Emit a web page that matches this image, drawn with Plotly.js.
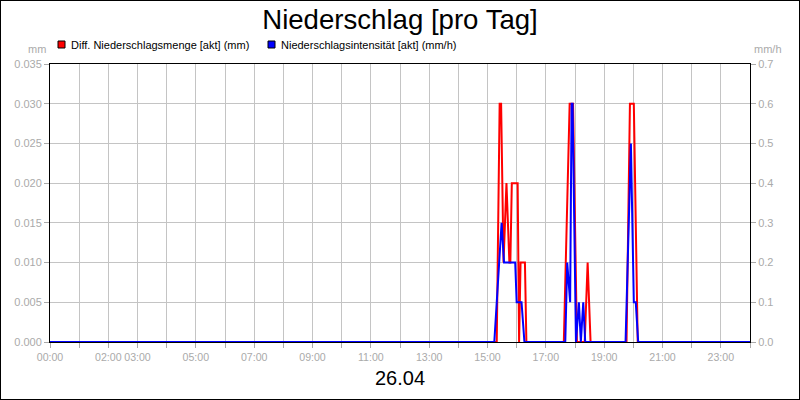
<!DOCTYPE html>
<html>
<head>
<meta charset="utf-8">
<script src="https://cdn.plot.ly/plotly-3.0.1.min.js"></script>
<style>
  body { margin: 0; background: #fff; }
  #chart { width: 798px; height: 398px; border: 1px solid #000; }
</style>
</head>
<body>
<div id="chart"></div>
<script>
// Diff. Niederschlagsmenge [akt] (mm) - linke Achse
const mengeZeit = ['00:00', '15:19', '15:25', '15:28', '15:33', '15:39', '15:45', '15:47', '15:50', '16:02', '16:05',
    '16:08', '16:17', '16:20', '17:37', '17:49', '17:56', '18:04', '18:20', '18:26', '18:32',
    '19:46', '19:53', '20:01', '20:09', '24:00'];
const mengeWert = [0, 0, 0.03, 0.03, 0.01, 0.02, 0.01, 0.01, 0.02, 0.02, 0,
    0.01, 0.01, 0, 0, 0.03, 0.03, 0, 0, 0.01, 0,
    0, 0.03, 0.03, 0, 0];

// Niederschlagsintensität [akt] (mm/h) - rechte Achse
const intensZeit = ['00:00', '15:14', '15:29', '15:34', '15:57', '16:00', '16:10', '16:16',
    '17:40', '17:44', '17:50', '17:53', '17:55', '18:02', '18:08', '18:12', '18:17', '18:21',
    '19:44', '19:55', '20:01', '20:05', '20:10', '24:00'];
const intensWert = [0, 0, 0.3, 0.2, 0.2, 0.1, 0.1, 0,
    0, 0.2, 0.1, 0.6, 0.6, 0, 0.1, 0, 0.1, 0,
    0, 0.5, 0.1, 0.1, 0, 0];

const stunden = [0, 1, 2, 3, 4, 5, 6, 7, 8, 9, 10, 11, 12, 13, 14, 15, 16, 17, 18, 19, 20, 21, 22, 23, 24];
const stundenText = ['00:00', '', '02:00', '03:00', '', '05:00', '', '07:00', '', '09:00', '', '11:00', '',
    '13:00', '', '15:00', '', '17:00', '', '19:00', '', '21:00', '', '23:00', ''];

function toHours(t) {
    const p = t.split(':');
    return Number(p[0]) + Number(p[1]) / 60;
}

// page pixel -> paper coords (plot area 50..750, 64..342)
function px(x) { return (x - 50) / 700; }
function py(y) { return (342 - y) / 278; }

const grey = '#aaaaaa';
const font = 'Liberation Sans, Arial, sans-serif';

const traceIntens = {
    x: intensZeit.map(toHours),
    y: intensWert,
    yaxis: 'y2',
    type: 'scatter',
    mode: 'lines',
    name: 'Niederschlagsintensität [akt] (mm/h)',
    line: { color: '#0000ff', width: 2 }
};

const traceMenge = {
    x: mengeZeit.map(toHours),
    y: mengeWert,
    type: 'scatter',
    mode: 'lines',
    name: 'Diff. Niederschlagsmenge [akt] (mm)',
    line: { color: '#ff0000', width: 2 }
};

const layout = {
    width: 798,
    height: 398,
    margin: { l: 49, r: 49, t: 63, b: 57 },
    showlegend: false,
    paper_bgcolor: '#fff',
    plot_bgcolor: '#fff',
    font: { family: font, size: 11, color: '#000' },
    title: {
        text: 'Niederschlag [pro Tag]',
        font: { family: font, size: 27.6, color: '#000' },
        x: 0.5, xanchor: 'center',
        yref: 'container', y: 1 - 18 / 398, yanchor: 'middle'
    },
    xaxis: {
        range: [0, 24],
        tickvals: stunden,
        ticktext: stundenText,
        tickangle: 0,
        showgrid: true, gridcolor: '#c4c4c4', gridwidth: 1,
        zeroline: false,
        showline: true, linecolor: '#000', linewidth: 1, mirror: true,
        ticks: 'outside', ticklen: 5, tickcolor: grey,
        tickfont: { family: font, size: 10.6, color: grey }
    },
    yaxis: {
        range: [0, 0.035],
        dtick: 0.005,
        tickformat: '.3f',
        showgrid: true, gridcolor: '#c4c4c4', gridwidth: 1,
        zeroline: false,
        showline: true, linecolor: '#000', linewidth: 1, mirror: true,
        ticks: 'outside', ticklen: 5, tickcolor: grey,
        tickfont: { family: font, size: 11, color: grey }
    },
    yaxis2: {
        overlaying: 'y',
        side: 'right',
        range: [0, 0.7],
        dtick: 0.1,
        tickformat: '.1f',
        showgrid: false,
        zeroline: false,
        showline: true, linecolor: '#000', linewidth: 1,
        ticks: 'outside', ticklen: 5, tickcolor: grey,
        tickfont: { family: font, size: 11, color: grey }
    },
    shapes: [
        { type: 'rect', xref: 'paper', yref: 'paper', x0: px(58), x1: px(65), y0: py(48), y1: py(41),
          fillcolor: '#ff0000', line: { color: '#000', width: 1 } },
        { type: 'rect', xref: 'paper', yref: 'paper', x0: px(268), x1: px(275), y0: py(48), y1: py(41),
          fillcolor: '#0000ff', line: { color: '#000', width: 1 } }
    ],
    annotations: [
        { text: 'Diff. Niederschlagsmenge [akt] (mm)', xref: 'paper', yref: 'paper',
          x: px(69), y: py(44.5), xanchor: 'left', yanchor: 'middle', showarrow: false,
          font: { family: font, size: 11, color: '#000' } },
        { text: 'Niederschlagsintensität [akt] (mm/h)', xref: 'paper', yref: 'paper',
          x: px(279), y: py(44.5), xanchor: 'left', yanchor: 'middle', showarrow: false,
          font: { family: font, size: 11, color: '#000' } },
        { text: 'mm', xref: 'paper', yref: 'paper',
          x: px(48), y: py(49), xanchor: 'right', yanchor: 'middle', showarrow: false,
          font: { family: font, size: 11, color: grey } },
        { text: 'mm/h', xref: 'paper', yref: 'paper',
          x: px(752), y: py(49), xanchor: 'left', yanchor: 'middle', showarrow: false,
          font: { family: font, size: 11, color: grey } },
        { text: '26.04', xref: 'paper', yref: 'paper',
          x: 0.5, y: py(378), xanchor: 'center', yanchor: 'middle', showarrow: false,
          font: { family: font, size: 20, color: '#000' } }
    ]
};

Plotly.newPlot('chart', [traceIntens, traceMenge], layout, { displayModeBar: false, staticPlot: true });
</script>
</body>
</html>
